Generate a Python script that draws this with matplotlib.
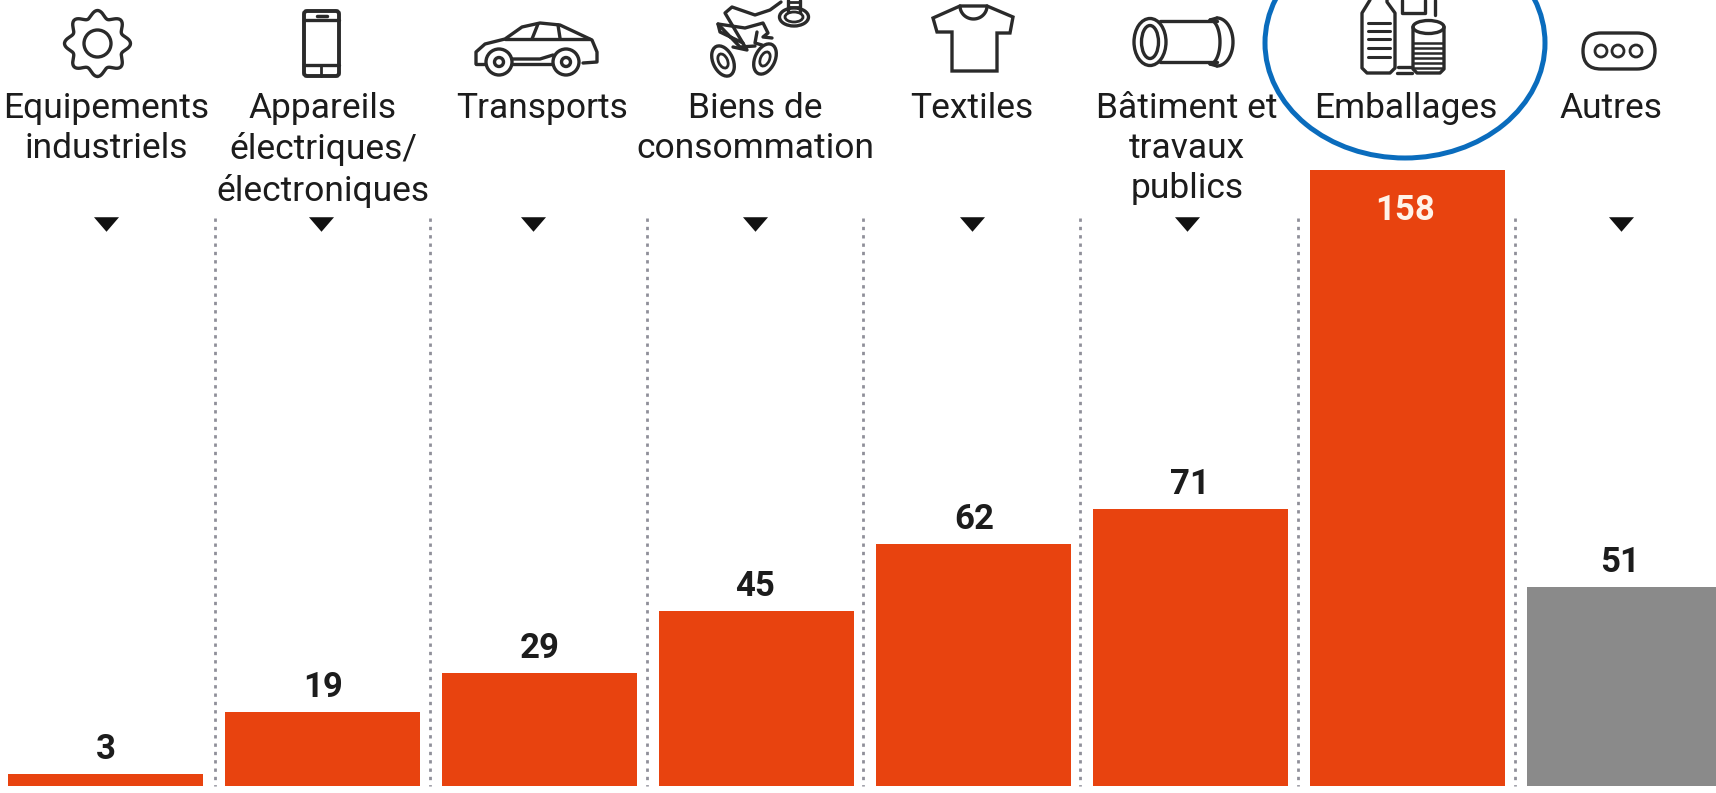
import numpy as np
from matplotlib import pyplot as plt
from matplotlib.patches import Circle, Ellipse, FancyBboxPatch, Polygon, Rectangle

# chart values
categories = ['Equipements\nindustriels', 'Appareils\nélectriques/\nélectroniques', 'Transports',
              'Biens de\nconsommation', 'Textiles', 'Bâtiment et\ntravaux\npublics', 'Emballages', 'Autres']
values = [3, 19, 29, 45, 62, 71, 158, 51]

ORANGE = '#e8430f'
GREY = '#8a8a8a'
INK = '#1c1c1c'
plt.rcParams['font.family'] = ['Roboto', 'DejaVu Sans']

W, H = 1716, 793
fig = plt.figure(figsize=(W / 100, H / 100), dpi=100, facecolor='white')

# bars axes: baseline at y=786px, 3.9 px per unit
ax = fig.add_axes([0, 0, 1, 1])
ax.set_xlim(0, W)
ax.set_ylim(-(H - 786) / 3.9, 786 / 3.9)
ax.axis('off')

bar_w = 195
lefts = [8 + 217 * i for i in range(8)]
bar_colors = [ORANGE] * 7 + [GREY]
label_x = [106, 323, 540, 755, 974, 1190, 1405, 1620]
for i, v in enumerate(values):
    ax.bar(lefts[i], v, width=bar_w, align='edge', color=bar_colors[i], zorder=3)
    if i == 6:
        ax.annotate(str(v), (label_x[i], v), xytext=(0, -29.5), textcoords='offset points', ha='center',
                    va='center', color='#fff3e8', fontsize=25, fontweight='bold', zorder=5)
    else:
        ax.annotate(str(v), (label_x[i], v), xytext=(0, 17.5), textcoords='offset points', ha='center',
                    va='center', color=INK, fontsize=25, fontweight='bold', zorder=5)

# overlay in pixel coordinates for the header: text, icons, separators
px = fig.add_axes([0, 0, 1, 1], facecolor='none')
px.set_xlim(0, W)
px.set_ylim(H, 0)
px.axis('off')

seps = [214.5, 430, 647, 863, 1080, 1298, 1515]
for x in seps:
    px.plot([x, x], [218, 786], color='#8f8f99', lw=2, dashes=(1.2, 1.8), zorder=1)

tri_x = [106, 321, 533, 755, 972, 1187, 1621]
px.scatter(tri_x, [224] * len(tri_x), marker=[(-1, 0.58), (1, 0.58), (0, -0.58)], s=325, color='#111111',
           linewidths=0, zorder=4)

head_x = [106, 323, 542, 755, 972, 1187, 1406, 1611]
for x, name in zip(head_x, categories):
    px.text(x, 92, name, ha='center', va='top', fontsize=25.5, color=INK, linespacing=1.27)

# blue circle around Emballages
px.add_patch(Ellipse((1405, 43), 280, 230, fill=False, ec='#0a6cbd', lw=3.6, zorder=6))

LW = 2.4
ICON = '#2a2a2a'


def line(xs, ys, lw=LW):
    px.plot(xs, ys, color=ICON, lw=lw, solid_capstyle='round', solid_joinstyle='round')


def ring(x, y, w, h=None, lw=LW, angle=0, fc='none', z=2):
    px.add_patch(Ellipse((x, y), w, h if h else w, angle=angle, fc=fc, ec=ICON, lw=lw, zorder=z))


# gear
t = np.linspace(0, 2 * np.pi, 300)
r = 29.5 + 3.5 * np.cos(8 * t)
line(97.5 + r * np.sin(t), 43.5 + r * np.cos(t))
ring(97.5, 43.5, 27)

# phone
px.add_patch(FancyBboxPatch((305, 12), 33, 63, boxstyle='round,pad=1,rounding_size=3', fill=False, ec=ICON, lw=2.8))
line([304, 339], [20, 20])
line([304, 339], [65, 65])
line([317, 327], [16, 16], 2.5)
line([321, 321], [66, 76], 2)

# car
line([476, 476, 485, 505, 522, 540, 560, 575, 592, 597, 597, 583],
     [64, 52, 44, 39, 27, 23, 25, 32, 40, 52, 62, 63])
line([505, 590], [39, 39])
line([538, 532], [24, 39])
line([558, 560], [25, 38])
line([476, 486], [64, 64])
line([512, 552], [64, 64])
line([512, 540, 553], [59, 59, 55])
for cx in (499, 566):
    ring(cx, 62, 26, fc='white', z=3)
    ring(cx, 62, 9, fc='white', z=3)

# scissors and screw
ring(723, 61, 20, 32, angle=-25)
ring(723, 61, 9, 15, lw=2, angle=-25)
ring(765, 59, 20, 32, angle=25)
ring(765, 59, 9, 15, lw=2, angle=25)
line([733, 747, 725, 732, 755, 770, 781], [47, 50, 13, 7, 15, 10, 2])
line([755, 740, 718, 720, 743], [46, 47, 24, 32, 43])
line([718, 745, 763, 768, 763, 772], [24, 28, 23, 33, 37, 38])
line([757, 755, 762], [32, 43, 45])
ring(794, 17, 29, 18)
ring(794, 17, 18, 10, lw=2)
line([788, 788], [0, 12])
line([800, 800], [0, 12])
for y in (2, 7):
    line([788, 800], [y, y], 2)

# t-shirt
px.add_patch(Polygon([(960, 6), (933, 18), (937, 32), (952, 32), (952, 71), (997, 71), (997, 33), (1010, 33),
                      (1013, 17), (987, 6)], closed=True, fill=False, ec=ICON, lw=LW))
s = np.linspace(0, np.pi, 30)
line(973.5 + 13.5 * np.cos(s), 6 + 13 * np.sin(s))

# pipe
ring(1150, 42, 32, 47)
ring(1150, 42, 17, 33)
line([1160, 1217], [21, 21])
line([1160, 1217], [62, 62])
a = np.linspace(-np.pi / 2, np.pi / 2, 30)
line(1217 + 16 * np.cos(a), 42 + 24 * np.sin(a))
line(1210 + 10 * np.cos(a), 42 + 22 * np.sin(a))
line([1210, 1217], [20, 18])
line([1210, 1217], [64, 66])

# bottle, can, box
line([1370, 1362, 1362, 1367, 1390, 1395, 1395, 1387, 1387], [0, 13, 68, 73, 73, 68, 13, 2, 0])
for y in (23, 31, 39, 48, 57):
    line([1368, 1390], [y, y], 2.2)
line([1413, 1413, 1417, 1440, 1444, 1444], [27, 69, 73, 73, 69, 27])
ring(1428.5, 27, 31, 13)
for y in (43, 48, 53, 58, 63, 68):
    line([1414, 1443], [y, y], 1.8)
line([1402, 1402, 1425, 1425], [0, 13, 13, 0])
line([1435, 1435], [0, 15])
line([1397, 1412], [73, 73])
line([1398, 1412], [67, 67])

# others pill
px.add_patch(FancyBboxPatch((1583, 33), 72, 36, boxstyle='round,pad=0,rounding_size=18', fill=False, ec=ICON, lw=LW))
for x in (1601, 1618, 1636):
    ring(x, 51, 12, lw=2)

fig.savefig('out.png', dpi=100)
